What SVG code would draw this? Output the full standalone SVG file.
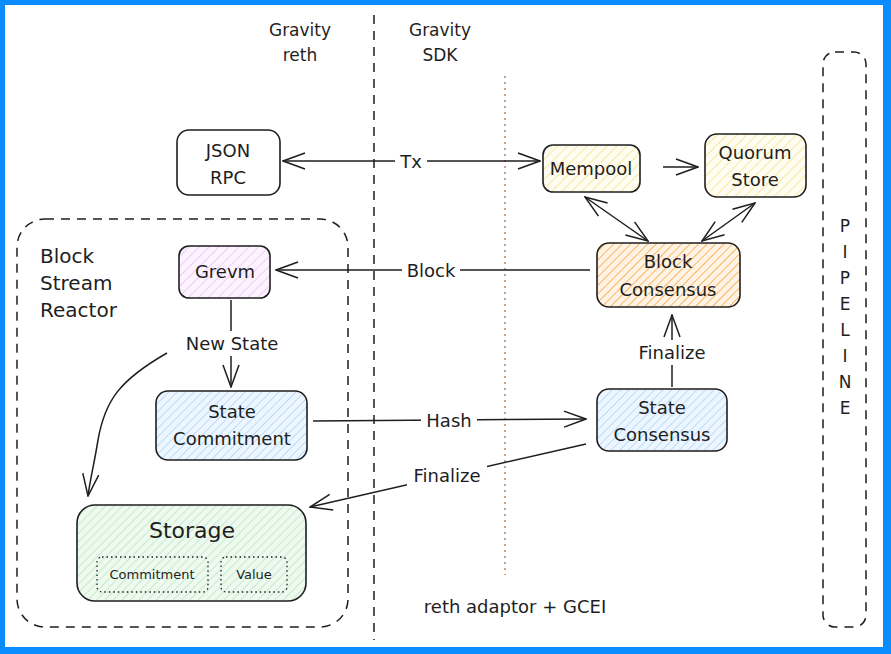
<svg xmlns="http://www.w3.org/2000/svg" width="891" height="654" viewBox="0 0 891 654">
  <defs>
    <style>
      text { font-family: "DejaVu Sans", "Liberation Sans", sans-serif; fill: #1e1e1e; }
      .lbl { font-size: 18px; text-anchor: middle; }
      .hdr { font-size: 17px; text-anchor: middle; }
      .big { font-size: 22px; text-anchor: middle; }
      .group-title { font-size: 20px; }
      .small { font-size: 13px; text-anchor: middle; }
      .box { stroke: #1e1e1e; stroke-width: 1.6; }
      .conn { fill: none; stroke: #1e1e1e; stroke-width: 1.5; }
      .dash { fill: none; stroke: #1e1e1e; stroke-width: 1.5; stroke-dasharray: 9 7; }
      .dot { fill: none; stroke: #1e1e1e; stroke-width: 1.3; stroke-dasharray: 1.5 3; }
      .bg { fill: #ffffff; }
    </style>
    <pattern id="hatch-yellow" width="7" height="7" patternUnits="userSpaceOnUse" patternTransform="rotate(45)">
      <rect width="7" height="7" fill="#fffdf2"/>
      <line x1="0" y1="0" x2="0" y2="7" stroke="#f5d96b" stroke-width="1.2"/>
    </pattern>
    <pattern id="hatch-orange" width="6" height="6" patternUnits="userSpaceOnUse" patternTransform="rotate(45)">
      <rect width="6" height="6" fill="#fff3e4"/>
      <line x1="0" y1="0" x2="0" y2="6" stroke="#f7a94a" stroke-width="1.6"/>
    </pattern>
    <pattern id="hatch-purple" width="7" height="7" patternUnits="userSpaceOnUse" patternTransform="rotate(45)">
      <rect width="7" height="7" fill="#fcf3fe"/>
      <line x1="0" y1="0" x2="0" y2="7" stroke="#e6b3f2" stroke-width="1.2"/>
    </pattern>
    <pattern id="hatch-blue" width="6" height="6" patternUnits="userSpaceOnUse" patternTransform="rotate(45)">
      <rect width="6" height="6" fill="#edf6ff"/>
      <line x1="0" y1="0" x2="0" y2="6" stroke="#9fcff5" stroke-width="1.3"/>
    </pattern>
    <pattern id="hatch-green" width="6" height="6" patternUnits="userSpaceOnUse" patternTransform="rotate(45)">
      <rect width="6" height="6" fill="#eefaf0"/>
      <line x1="0" y1="0" x2="0" y2="6" stroke="#aee5b6" stroke-width="1.3"/>
    </pattern>
    <!-- open chevron arrowhead, reused at both ends of two-way connectors -->
    <marker id="arrow" viewBox="0 0 24 20" refX="23" refY="10" markerWidth="24" markerHeight="20" markerUnits="userSpaceOnUse" orient="auto-start-reverse">
      <path d="M1,2 L23,10 L1,18" fill="none" stroke="#1e1e1e" stroke-width="1.5"/>
    </marker>
  </defs>

  <!-- frame -->
  <rect x="0" y="0" width="891" height="654" fill="#0a8cff"/>
  <rect x="5" y="5" width="878" height="642" fill="#ffffff"/>

  <!-- lane separators -->
  <g id="lanes">
    <line class="dash" x1="374" y1="15" x2="374" y2="640"/>
    <line x1="505" y1="76" x2="505" y2="575" fill="none" stroke="#b0704a" stroke-width="1.3" stroke-dasharray="2 4"/>
    <text class="hdr" x="300" y="36">Gravity</text>
    <text class="hdr" x="300" y="61">reth</text>
    <text class="hdr" x="440" y="36">Gravity</text>
    <text class="hdr" x="440" y="61">SDK</text>
    <text class="lbl" x="515" y="613">reth adaptor + GCEI</text>
  </g>

  <!-- pipeline column -->
  <g id="pipeline">
    <rect class="dash" x="823" y="52" width="43" height="575" rx="12"/>
    <text class="hdr" x="845" y="232">P</text>
    <text class="hdr" x="845" y="258">I</text>
    <text class="hdr" x="845" y="284">P</text>
    <text class="hdr" x="845" y="310">E</text>
    <text class="hdr" x="845" y="336">L</text>
    <text class="hdr" x="845" y="362">I</text>
    <text class="hdr" x="845" y="388">N</text>
    <text class="hdr" x="845" y="414">E</text>
  </g>

  <!-- block stream reactor group -->
  <g id="block-stream-reactor">
    <rect class="dash" x="17" y="219" width="331" height="408" rx="28"/>
    <text class="group-title" x="40" y="263">Block</text>
    <text class="group-title" x="40" y="290">Stream</text>
    <text class="group-title" x="40" y="317">Reactor</text>
  </g>

  <!-- connectors -->
  <g id="connectors">
    <!-- Tx -->
    <line class="conn" x1="283" y1="161" x2="540" y2="161" marker-start="url(#arrow)" marker-end="url(#arrow)"/>
    <rect class="bg" x="395" y="150" width="32" height="22"/>
    <text class="lbl" x="411" y="168">Tx</text>
    <!-- Mempool -> Quorum -->
    <line class="conn" x1="663" y1="167" x2="698" y2="167" marker-end="url(#arrow)"/>
    <!-- Mempool <-> Block Consensus -->
    <line class="conn" x1="585" y1="197" x2="648" y2="241" marker-start="url(#arrow)" marker-end="url(#arrow)"/>
    <!-- Quorum <-> Block Consensus -->
    <line class="conn" x1="755" y1="203" x2="702" y2="241" marker-start="url(#arrow)" marker-end="url(#arrow)"/>
    <!-- Block -->
    <line class="conn" x1="590" y1="270" x2="276" y2="270" marker-end="url(#arrow)"/>
    <rect class="bg" x="402" y="259" width="58" height="22"/>
    <text class="lbl" x="431" y="277">Block</text>
    <!-- New State -->
    <line class="conn" x1="231" y1="300" x2="231" y2="331"/>
    <line class="conn" x1="231" y1="356" x2="231" y2="387" marker-end="url(#arrow)"/>
    <text class="lbl" x="232" y="350">New State</text>
    <path class="conn" d="M167,353 C120,380 105,400 98,440 C94,465 90,480 88,496" marker-end="url(#arrow)"/>
    <!-- Hash -->
    <line class="conn" x1="313" y1="421" x2="586" y2="419" marker-end="url(#arrow)"/>
    <rect class="bg" x="421" y="409" width="56" height="22"/>
    <text class="lbl" x="449" y="427">Hash</text>
    <!-- Finalize (State Consensus -> Block Consensus) -->
    <line class="conn" x1="672" y1="387" x2="672" y2="365"/>
    <line class="conn" x1="672" y1="340" x2="672" y2="315" marker-end="url(#arrow)"/>
    <text class="lbl" x="672" y="359">Finalize</text>
    <!-- Finalize (State Consensus -> Storage) -->
    <line class="conn" x1="586" y1="444" x2="310" y2="507" marker-end="url(#arrow)"/>
    <rect class="bg" x="407" y="464" width="80" height="24"/>
    <text class="lbl" x="447" y="482">Finalize</text>
  </g>

  <!-- nodes -->
  <g id="json-rpc">
    <rect class="box" x="177" y="130" width="103" height="65" rx="12" fill="#ffffff"/>
    <text class="lbl" x="228" y="157">JSON</text>
    <text class="lbl" x="228" y="184">RPC</text>
  </g>

  <g id="mempool">
    <rect class="box" x="543" y="145" width="97" height="47" rx="10" fill="url(#hatch-yellow)"/>
    <text class="lbl" x="591" y="175">Mempool</text>
  </g>

  <g id="quorum-store">
    <rect class="box" x="705" y="134" width="101" height="63" rx="12" fill="url(#hatch-yellow)"/>
    <text class="lbl" x="755" y="159">Quorum</text>
    <text class="lbl" x="755" y="186">Store</text>
  </g>

  <g id="block-consensus">
    <rect class="box" x="597" y="243" width="143" height="64" rx="12" fill="url(#hatch-orange)"/>
    <text class="lbl" x="668" y="268">Block</text>
    <text class="lbl" x="668" y="296">Consensus</text>
  </g>

  <g id="grevm">
    <rect class="box" x="179" y="246" width="91" height="52" rx="10" fill="url(#hatch-purple)"/>
    <text class="lbl" x="225" y="278">Grevm</text>
  </g>

  <g id="state-commitment">
    <rect class="box" x="156" y="391" width="151" height="69" rx="12" fill="url(#hatch-blue)"/>
    <text class="lbl" x="232" y="418">State</text>
    <text class="lbl" x="232" y="445">Commitment</text>
  </g>

  <g id="state-consensus">
    <rect class="box" x="597" y="389" width="130" height="62" rx="12" fill="url(#hatch-blue)"/>
    <text class="lbl" x="662" y="414">State</text>
    <text class="lbl" x="662" y="441">Consensus</text>
  </g>

  <g id="storage">
    <rect class="box" x="77" y="505" width="229" height="96" rx="18" fill="url(#hatch-green)"/>
    <text class="big" x="192" y="538">Storage</text>
    <rect class="dot" x="97" y="557" width="111" height="35" rx="5"/>
    <text class="small" x="152" y="579">Commitment</text>
    <rect class="dot" x="221" y="557" width="66" height="35" rx="5"/>
    <text class="small" x="254" y="579">Value</text>
  </g>
</svg>
